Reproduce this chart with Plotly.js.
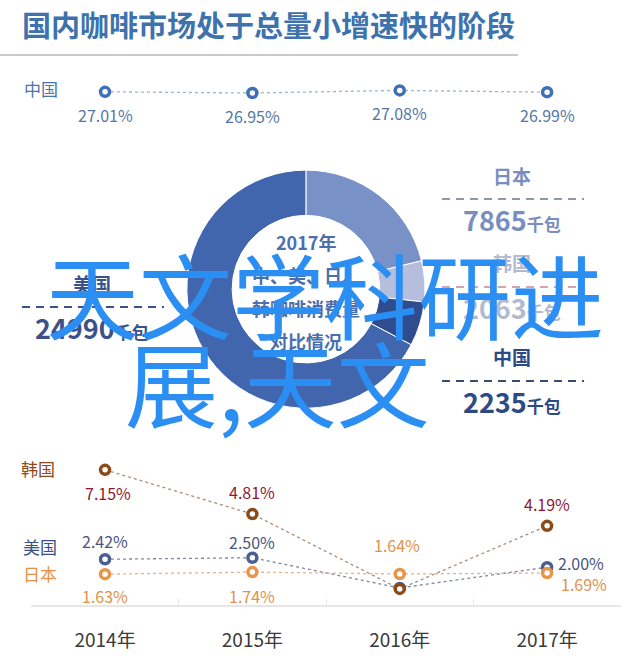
<!DOCTYPE html>
<html>
<head>
<meta charset="utf-8">
<script src="https://cdn.plot.ly/plotly-3.0.1.min.js"></script>
<style>
  html, body { margin: 0; padding: 0; background: #fff; }
  #chart { width: 640px; height: 667px; }
</style>
</head>
<body>
<div id="chart"></div>
<script>
// data
var years = ['2014年', '2015年', '2016年', '2017年']
var chinaShare = [27.01, 26.95, 27.08, 26.99]
var koreaShare = [7.15, 4.81, 0.85, 4.19]
var usShare = [2.42, 2.50, 0.90, 2.00]
var japanShare = [1.63, 1.74, 1.64, 1.69]
// 2016 values for Korea / US are not labelled in the source
var koreaLabelled = [true, true, false, true]
var usLabelled = [true, true, false, true]
var japanLabelled = [true, true, true, true]
var chinaLabelled = [true, true, true, true]

var donutCountries = ['日本', '韩国', '中国', '美国']
var donutValues = [7865, 2063, 2235, 24990]
var donutColors = ['#7891c7', '#b5bedc', '#2e4c8e', '#4266ae']

const FONT = '"Noto Sans CJK SC", "Noto Sans", sans-serif'
const H = 667

const py = (pix) => 1 - pix / H
const px = (pix) => pix / 640

const lineTrace = (y, xa, ya, ring, lineColor) => ({
    x: years,
    y: y,
    xaxis: xa,
    yaxis: ya,
    type: 'scatter',
    mode: 'lines+markers',
    cliponaxis: false,
    line: { color: lineColor, width: 1.3, dash: 'dot' },
    marker: { size: 9, color: '#ffffff', line: { color: ring, width: 3.5 } },
    hoverinfo: 'skip',
})

var data = [
    lineTrace(chinaShare, 'x', 'y', '#3e6fb8', '#9fb3cf'),
    lineTrace(usShare, 'x2', 'y2', '#4a5f8f', '#7d88a6'),
    lineTrace(japanShare, 'x2', 'y2', '#e8954a', '#e6b48a'),
    lineTrace(koreaShare, 'x2', 'y2', '#8b4a1a', '#a88c7c'),
    {
        type: 'pie',
        labels: donutCountries,
        values: donutValues,
        hole: 0.62,
        sort: false,
        direction: 'clockwise',
        rotation: 0,
        textinfo: 'none',
        marker: { colors: donutColors, line: { color: '#ffffff', width: 1 } },
        domain: { x: [0.292, 0.664], y: [0.388, 0.745] },
        hoverinfo: 'skip',
    },
]

// value labels, placed relative to each marker
var annotations = []
const addLabels = (vals, shown, xa, ya, color, shifts) => {
    vals.forEach((v, i) => {
        if (!shown[i]) return
        annotations.push({
            x: years[i], y: v, xref: xa, yref: ya,
            xanchor: 'center', yanchor: 'middle',
            text: v.toFixed(2) + '%',
            showarrow: false,
            xshift: shifts[i][0], yshift: shifts[i][1],
            font: { family: FONT, size: 16, color: color },
        })
    })
}
addLabels(chinaShare, chinaLabelled, 'x', 'y', '#5577a6', [[0, -23], [0, -23], [0, -23], [0, -23]])
addLabels(koreaShare, koreaLabelled, 'x2', 'y2', '#8b1a30', [[3, -23], [0, 22], [0, 0], [0, 22]])
addLabels(usShare, usLabelled, 'x2', 'y2', '#4a5580', [[0, 18], [0, 16], [0, 0], [34, 4]])
addLabels(japanShare, japanLabelled, 'x2', 'y2', '#e0924a', [[0, -22], [0, -24], [-3, 29], [37, -11]])

const note = (text, x, y, size, color, weight) => ({
    text: text, x: px(x), y: py(y), xref: 'paper', yref: 'paper',
    xanchor: 'center', yanchor: 'middle',
    showarrow: false,
    font: { family: FONT, size: size, color: color, weight: weight || 'normal' },
})

// title and row labels
annotations.push(note('国内咖啡市场处于总量小增速快的阶段', 268, 24, 29, '#3d72ad', 'bold'))
annotations.push(note('中国', 41, 88, 17, '#4a74b0'))
annotations.push(note('韩国', 38, 468, 17, '#8b4a20'))
annotations.push(note('美国', 40, 546, 17, '#3a4f85'))
annotations.push(note('日本', 40, 573, 17, '#e8904a'))

// donut centre
annotations.push(note('2017年', 306, 242, 18, '#4a6fae', 'bold'))
annotations.push(note('中、美、日、', 306, 275, 18, '#4a6fae', 'bold'))
annotations.push(note('韩咖啡消费量', 306, 308, 18, '#4a6fae', 'bold'))
annotations.push(note('对比情况', 306, 341, 18, '#4a6fae', 'bold'))

// donut side labels
const unit = (n) => n + '<span style="font-size:17px">千包</span>'
var sideLabels = [
    { name: '美国', v: 24990, x: 92, y: 283, color: '#3a5289', dash: '#3a5289' },
    { name: '日本', v: 7865, x: 512, y: 175, color: '#7a8dbf', dash: '#8d97b0' },
    { name: '韩国', v: 2063, x: 512, y: 263, color: '#b3bad0', dash: '#d8a4ac' },
    { name: '中国', v: 2235, x: 512, y: 357, color: '#2e4a85', dash: '#3a4a70' },
]
var shapes = [{
    type: 'line', xref: 'paper', yref: 'paper',
    x0: 0, x1: px(518), y0: py(55), y1: py(55),
    line: { color: '#b8b8b8', width: 1.5 },
}]
sideLabels.forEach(s => {
    annotations.push(note(s.name, s.x, s.y, 19, s.color, 'bold'))
    annotations.push(note(unit(s.v), s.x, s.y + 44, 27, s.color, 'bold'))
    shapes.push({
        type: 'line', xref: 'paper', yref: 'paper',
        x0: px(s.x - 70), x1: px(s.x + 72), y0: py(s.y + 24), y1: py(s.y + 24),
        line: { color: s.dash, width: 2, dash: '8px,6px' },
    })
})

// big overlay text
annotations.push(note('天文学科研进', 325, 292, 93, '#2b8ef3'))
annotations.push(note('展,天文', 277, 380, 93, '#2b8ef3'))

var layout = {
    width: 640,
    height: 667,
    margin: { l: 0, r: 0, t: 0, b: 0 },
    paper_bgcolor: '#ffffff',
    plot_bgcolor: 'rgba(0,0,0,0)',
    showlegend: false,
    hovermode: false,
    xaxis: {
        domain: [0.049, 0.970], anchor: 'y', type: 'category',
        range: [-0.5, 3.5], visible: false,
    },
    yaxis: {
        domain: [py(112), py(72)], anchor: 'x', range: [26, 28], visible: false,
    },
    xaxis2: {
        domain: [0.049, 0.970], anchor: 'y2', type: 'category',
        range: [-0.5, 3.5], showgrid: false, zeroline: false,
        showline: true, linecolor: '#e6e6e6', linewidth: 1.5,
        ticks: 'inside', tickson: 'boundaries', ticklen: 6, tickcolor: '#e6e6e6',
        ticklabelstandoff: 18,
        tickfont: { family: FONT, size: 19, color: '#3a3a3a' },
    },
    yaxis2: {
        domain: [py(605), py(450)], anchor: 'x2', range: [0, 8.2], visible: false,
    },
    annotations: annotations,
    shapes: shapes,
}

Plotly.newPlot('chart', data, layout, { staticPlot: true, displayModeBar: false })
</script>
</body>
</html>
